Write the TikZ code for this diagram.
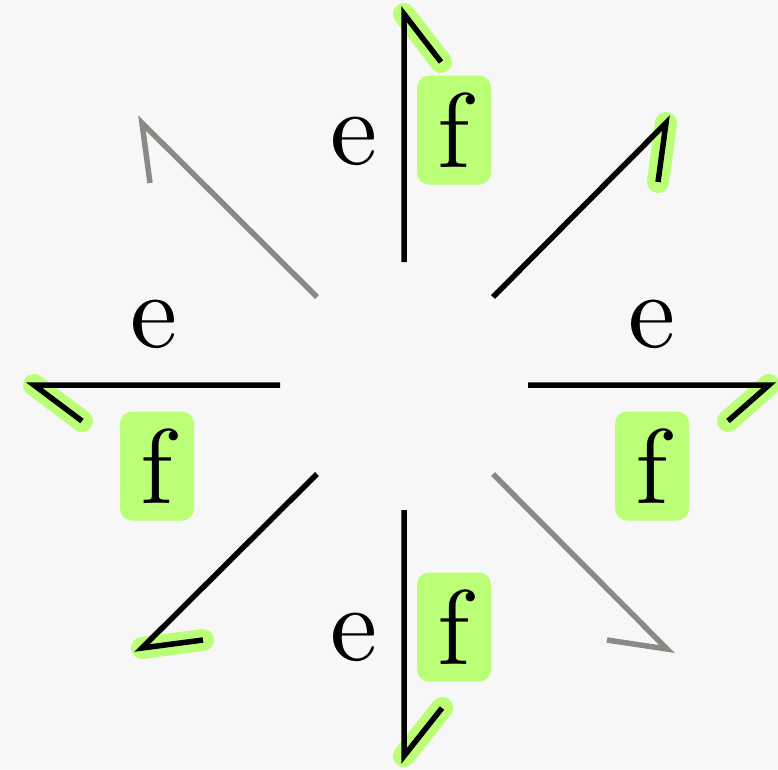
\documentclass[tikz,border=0pt]{standalone}
\usepackage{fontspec}
\usepackage{tikz}

\newfontfamily\labfont{lmroman10-regular.otf}

\definecolor{hilite}{RGB}{187,255,119}
\definecolor{ashgray}{RGB}{136,138,133}
\definecolor{paper}{RGB}{247,247,247}

\begin{document}
\begin{tikzpicture}[x=1pt, y=-1pt,
    shaft/.style={line width=5.5pt, line join=miter},
    glow/.style={draw=hilite, line width=22pt, line cap=round},
    lab/.style={font=\labfont\fontsize{106}{110}\selectfont, inner sep=0pt},
    fbox/.style={lab, fill=hilite, rounded corners=12pt, minimum width=74pt, minimum height=109pt}
]

\path[fill=paper, use as bounding box] (0,0) rectangle (778,769);

% tails, tips and barb ends
\coordinate (n-tail) at (404,262);  \coordinate (n-tip) at (404,14);   \coordinate (n-barb) at (441,62);
\coordinate (s-tail) at (404,510);  \coordinate (s-tip) at (404,756);  \coordinate (s-barb) at (442,708);
\coordinate (e-tail) at (528,385);  \coordinate (e-tip) at (769,385);  \coordinate (e-barb) at (728,421);
\coordinate (w-tail) at (280,385);  \coordinate (w-tip) at (34,385);   \coordinate (w-barb) at (82,421);
\coordinate (ne-tail) at (493,297); \coordinate (ne-tip) at (666,123); \coordinate (ne-barb) at (658,182);
\coordinate (sw-tail) at (317,474); \coordinate (sw-tip) at (142,648); \coordinate (sw-barb) at (203,640);
\coordinate (nw-tail) at (317,297); \coordinate (nw-tip) at (142,123); \coordinate (nw-barb) at (150,183);
\coordinate (se-tail) at (493,474); \coordinate (se-tip) at (667,649); \coordinate (se-barb) at (607,640);

% highlighted barbs
\foreach \d in {n,s,e,w,ne,sw} {
  \draw[glow] (\d-tip) -- (\d-barb);
}

% arrows
\foreach \d in {n,s,e,w,ne,sw} {
  \draw[shaft] (\d-tail) -- (\d-tip) -- (\d-barb);
}
\foreach \d in {nw,se} {
  \draw[shaft, draw=ashgray] (\d-tail) -- (\d-tip) -- (\d-barb);
}

% labels
\node (n-e) at (354,141) [lab] {e};
\node (w-e) at (154,324) [lab] {e};
\node (e-e) at (652,324) [lab] {e};
\node (s-e) at (354,637) [lab] {e};

\node (n-f) at (454,130) [fbox] {f};
\node (w-f) at (157,466) [fbox] {f};
\node (e-f) at (652,466) [fbox] {f};
\node (s-f) at (454,627) [fbox] {f};

\end{tikzpicture}
\end{document}
